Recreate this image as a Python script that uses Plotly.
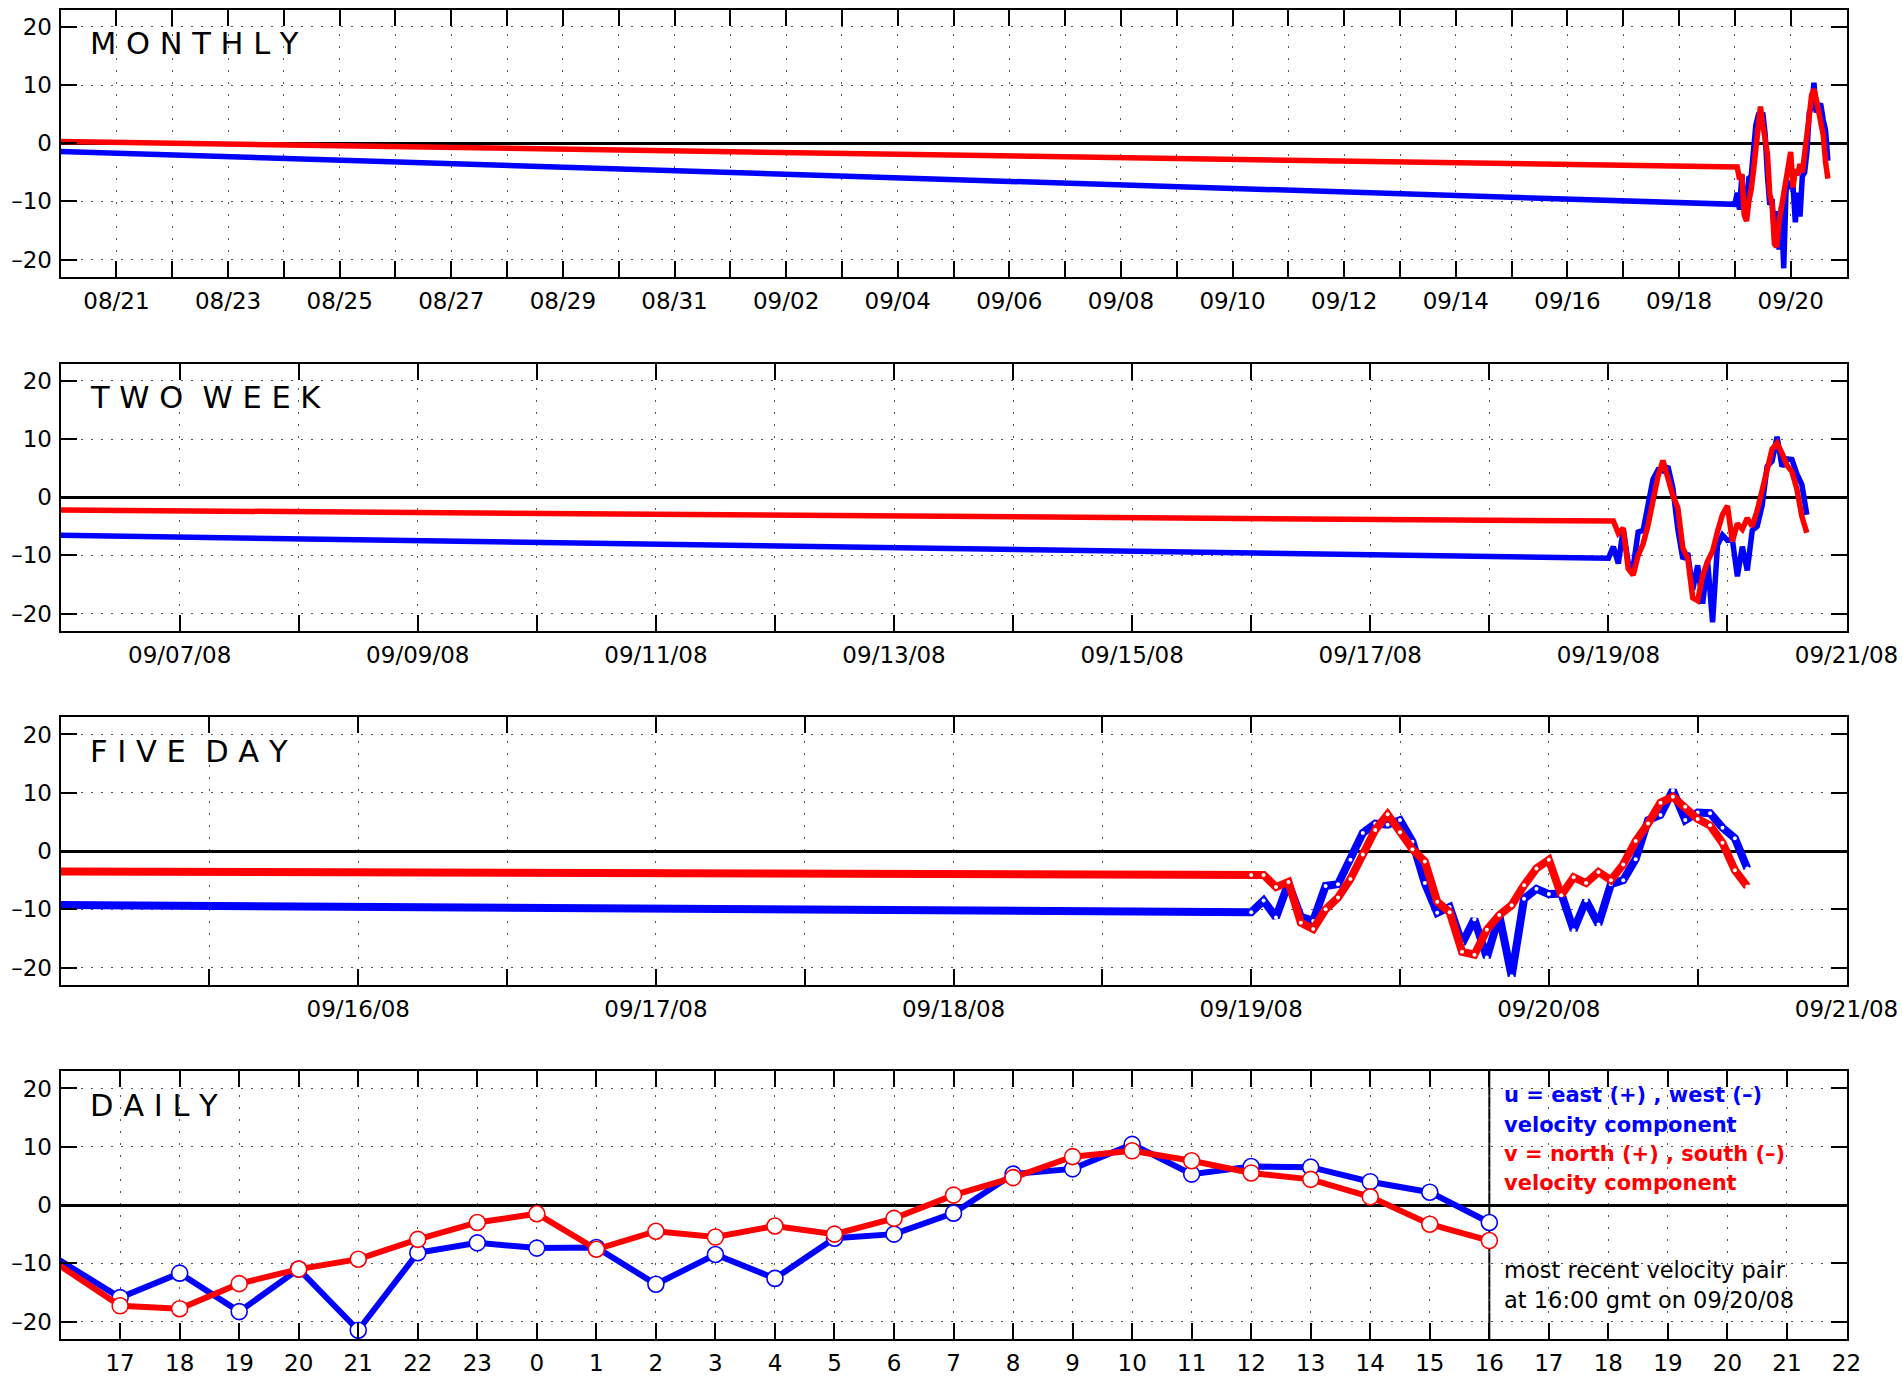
import pandas as pd
import plotly.graph_objects as go

# ------------------------------------------------------------------ data
# one isolated earlier observation, then an hourly record
early_time = ["2008-08-20 00:00"]
early_u = [-1.4]
early_v = [0.3]

hourly_start = "2008-09-19 00:00"
# u = east/west component (blue), hourly from 09/19 00:00 to 09/20 16:00
u_hourly = [-10.5, -8.5, -11.4, -5.5, -11.3, -12.0, -6.0, -5.7, -1.5, 3.1,
            4.7, 4.5, 5.3, 1.6, -5.5, -10.6, -9.6, -15.9, -11.7, -18.3,
            -11.0, -21.5, -8.2, -6.5, -7.4, -7.3, -13.6, -8.5, -12.6, -5.7,
            -5.0, -1.4, 5.3, 6.2, 10.4, 5.3, 6.6, 6.5, 4.0, 2.2, -3.0]
# v = north/south component (red)
v_hourly = [-4.1, -4.1, -6.2, -5.3, -12.3, -13.4, -10.0, -8.0, -4.8, -0.6,
            3.6, 6.3, 3.2, 0.3, -1.8, -8.7, -10.5, -17.3, -17.8, -13.5,
            -11.0, -9.3, -5.9, -3.0, -1.5, -7.6, -4.5, -5.5, -3.6, -5.0,
            -2.3, 1.7, 4.7, 8.3, 9.3, 7.6, 5.5, 4.4, 1.4, -3.3, -6.1]

panel_titles = ["M O N T H L Y", "T W O\u00a0\u00a0W E E K",
                "F I V E\u00a0\u00a0D A Y", "D A I L Y"]

monthly_labels = ["08/21", "08/23", "08/25", "08/27", "08/29", "08/31", "09/02",
                  "09/04", "09/06", "09/08", "09/10", "09/12", "09/14", "09/16",
                  "09/18", "09/20"]
twoweek_labels = ["09/07/08", "09/09/08", "09/11/08", "09/13/08", "09/15/08",
                  "09/17/08", "09/19/08", "09/21/08"]
fiveday_labels = ["09/16/08", "09/17/08", "09/18/08", "09/19/08", "09/20/08",
                  "09/21/08"]
daily_labels = ["17", "18", "19", "20", "21", "22", "23", "0", "1", "2", "3",
                "4", "5", "6", "7", "8", "9", "10", "11", "12", "13", "14",
                "15", "16", "17", "18", "19", "20", "21", "22"]

y_ticks = [-20, -10, 0, 10, 20]
y_tick_text = ["\u201320", "\u201310", "0", "10", "20"]
y_range = [-23, 23]

latest_time = "2008-09-20 16:00"
legend_lines = [("u = east (+) , west (\u2013)", "#0000ff"),
                ("velocity component", "#0000ff"),
                ("v = north (+) , south (\u2013)", "#ff0000"),
                ("velocity component", "#ff0000")]
note_lines = ["most recent velocity pair", "at 16:00 gmt on 09/20/08"]

# ------------------------------------------------------------------ series
times = list(pd.to_datetime(early_time)) + list(
    pd.date_range(hourly_start, periods=len(u_hourly), freq="h"))
u = early_u + u_hourly
v = early_v + v_hourly

# ------------------------------------------------------------------ axes setup
monthly_days = pd.date_range("2008-08-20", "2008-09-21", freq="D")
monthly_text = [d.strftime("%m/%d") if d.strftime("%m/%d") in monthly_labels else ""
                for d in monthly_days]
twoweek_days = pd.date_range("2008-09-06", "2008-09-21", freq="D")
twoweek_text = [d.strftime("%m/%d/%y") if d.strftime("%m/%d/%y") in twoweek_labels else ""
                for d in twoweek_days]
fiveday_t = pd.date_range("2008-09-15", "2008-09-21", freq="12h")
fiveday_text = [d.strftime("%m/%d/%y") if (d.hour == 0 and d.strftime("%m/%d/%y") in fiveday_labels) else ""
                for d in fiveday_t]
daily_t = pd.date_range("2008-09-19 17:00", "2008-09-20 22:00", freq="h")
daily_text = daily_labels

panels = [
    dict(rng=["2008-08-20", "2008-09-21"], tv=list(monthly_days), tt=monthly_text),
    dict(rng=["2008-09-06", "2008-09-21"], tv=list(twoweek_days), tt=twoweek_text),
    dict(rng=["2008-09-15", "2008-09-21"], tv=list(fiveday_t), tt=fiveday_text),
    dict(rng=["2008-09-19 16:00", "2008-09-20 22:00"], tv=list(daily_t), tt=daily_text),
]

W, H = 1902, 1380
LEFT, RIGHT = 60.6, 1846.5
PANEL_Y = [(9.5, 277), (363.5, 631), (717, 985), (1071, 1339)]


def xpaper(px):
    return px / W


def ypaper(py):
    return 1 - py / H


FONT = "DejaVu Sans"
BLUE, RED = "#0000ff", "#ff0000"
TICKFONT = dict(family=FONT, size=23, color="black")

fig = go.Figure()
layout = dict(
    width=W, height=H, margin=dict(l=0, r=0, t=0, b=0, autoexpand=False),
    paper_bgcolor="white", plot_bgcolor="white", showlegend=False,
    font=dict(family=FONT, size=22, color="black"),
)

for i, p in enumerate(panels):
    n = "" if i == 0 else str(i + 1)
    top, bot = PANEL_Y[i]
    layout["xaxis" + n] = dict(
        domain=[xpaper(LEFT), xpaper(RIGHT)], anchor="y" + n, type="date",
        range=p["rng"], tickmode="array", tickvals=p["tv"], ticktext=p["tt"],
        ticks="inside", ticklen=16, tickwidth=2, tickcolor="black",
        showline=True, linecolor="black", linewidth=2, mirror="ticks",
        showgrid=True, gridcolor="#555555", gridwidth=1.4, griddash="2px,10px",
        zeroline=False, tickfont=TICKFONT, automargin=False,
        ticklabelstandoff=2, ticklabeloverflow="allow",
    )
    layout["yaxis" + n] = dict(
        domain=[ypaper(bot), ypaper(top)], anchor="x" + n, range=y_range,
        tickmode="array", tickvals=y_ticks, ticktext=y_tick_text,
        ticks="inside", ticklen=16, tickwidth=2, tickcolor="black",
        showline=True, linecolor="black", linewidth=2, mirror="ticks",
        showgrid=True, gridcolor="#555555", gridwidth=1.4, griddash="2px,8px",
        zeroline=True, zerolinecolor="black", zerolinewidth=2.5,
        tickfont=TICKFONT, automargin=False,
        ticklabelstandoff=2, ticklabeloverflow="allow",
    )

    xa, ya = "x" + n, "y" + n
    if i < 2:
        for vals, col in ((u, BLUE), (v, RED)):
            fig.add_trace(go.Scatter(x=times, y=vals, mode="lines", xaxis=xa, yaxis=ya,
                                     line=dict(color=col, width=5.5)))
    elif i == 2:
        for vals, col in ((u, BLUE), (v, RED)):
            fig.add_trace(go.Scatter(x=times, y=vals, mode="lines+markers", xaxis=xa, yaxis=ya,
                                     line=dict(color=col, width=8),
                                     marker=dict(color="white", size=4, line=dict(width=0))))
    else:
        start = pd.Timestamp(p["rng"][0])
        sizes = [0 if t <= start else 16 for t in times]
        for vals, col in ((u, BLUE), (v, RED)):
            fig.add_trace(go.Scatter(x=times, y=vals, mode="lines+markers", xaxis=xa, yaxis=ya,
                                     line=dict(color=col, width=6),
                                     marker=dict(color="white", size=sizes, opacity=1,
                                                 line=dict(color=col, width=1.6))))

fig.update_layout(**layout)

# panel titles
anns = []
for i, title in enumerate(panel_titles):
    top, bot = PANEL_Y[i]
    anns.append(dict(xref="paper", yref="paper", x=xpaper(88), y=ypaper(top + 34),
                     xanchor="left", yanchor="middle", showarrow=False, text=title,
                     font=dict(family=FONT, size=30.5, color="black")))

# daily legend / note text
legend_y = [1095, 1125, 1154, 1183]
for (txt, col), yy in zip(legend_lines, legend_y):
    anns.append(dict(xref="paper", yref="paper", x=xpaper(1502), y=ypaper(yy),
                     xanchor="left", yanchor="middle", showarrow=False,
                     text="<b>" + txt + "</b>", font=dict(family=FONT, size=21, color=col)))
for txt, yy in zip(note_lines, [1270, 1300]):
    anns.append(dict(xref="paper", yref="paper", x=xpaper(1502), y=ypaper(yy),
                     xanchor="left", yanchor="middle", showarrow=False,
                     text=txt, font=dict(family=FONT, size=22.5, color="black")))
fig.update_layout(annotations=anns)

# vertical marker at most recent observation in daily panel
fig.add_shape(type="line", xref="x4", yref="y4 domain", x0=latest_time, x1=latest_time,
              y0=0, y1=1, line=dict(color="black", width=2), layer="below")

fig.write_html(
    "out.html",
    config={"displayModeBar": False, "responsive": False},
    post_script="document.body.style.margin='0';"
                "document.documentElement.style.overflow='hidden';",
)
